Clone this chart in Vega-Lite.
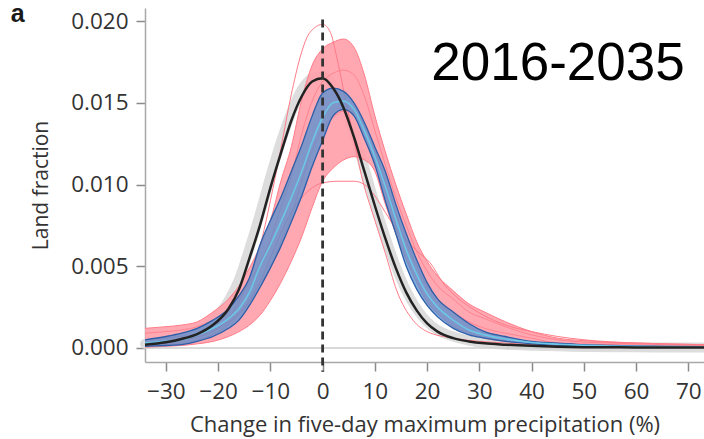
{
  "$schema": "https://vega.github.io/schema/vega-lite/v6.json",
  "width": 559,
  "height": 354,
  "autosize": "none",
  "padding": {"left": 145, "top": 8, "right": 0, "bottom": 77},
  "background": "white",
  "config": {
    "view": {"stroke": null},
    "axis": {"grid": false, "labelFont": "Open Sans", "titleFont": "Open Sans", "labelColor": "#333", "titleColor": "#333", "titleFontWeight": "normal", "domainColor": "#a8a8a8", "domainWidth": 1.5, "tickColor": "#8a8a8a", "tickWidth": 1.5, "tickSize": 9}
  },
  "datasets": {
    "one": [{}],
    "band": [
      {"x": -34, "rU": 0.0012, "rL": 0.00005, "r1": 0.0005, "r2": 0.0009, "bU": 0.0005, "bL": 0.0001, "bM": 0.0003, "k": 0.0002, "g": 0.00025},
      {"x": -30, "rU": 0.0013, "rL": 0.0001, "r1": 0.0006, "r2": 0.0010, "bU": 0.0007, "bL": 0.00015, "bM": 0.0004, "k": 0.00035, "g": 0.0004},
      {"x": -27, "rU": 0.0014, "rL": 0.00015, "r1": 0.0007, "r2": 0.0011, "bU": 0.0009, "bL": 0.0002, "bM": 0.0005, "k": 0.00055, "g": 0.0006},
      {"x": -24, "rU": 0.0016, "rL": 0.00025, "r1": 0.0008, "r2": 0.0013, "bU": 0.0012, "bL": 0.0004, "bM": 0.0008, "k": 0.00085, "g": 0.001},
      {"x": -21, "rU": 0.0022, "rL": 0.0004, "r1": 0.0011, "r2": 0.0017, "bU": 0.0017, "bL": 0.0007, "bM": 0.0012, "k": 0.0014, "g": 0.0017},
      {"x": -18, "rU": 0.0030, "rL": 0.0007, "r1": 0.0016, "r2": 0.0024, "bU": 0.0024, "bL": 0.0012, "bM": 0.0018, "k": 0.0024, "g": 0.0029},
      {"x": -16, "rU": 0.0038, "rL": 0.0010, "r1": 0.0021, "r2": 0.0031, "bU": 0.0032, "bL": 0.0017, "bM": 0.0024, "k": 0.0036, "g": 0.0042},
      {"x": -14, "rU": 0.0049, "rL": 0.0014, "r1": 0.0028, "r2": 0.0040, "bU": 0.0043, "bL": 0.0026, "bM": 0.0034, "k": 0.0055, "g": 0.0061},
      {"x": -12, "rU": 0.0062, "rL": 0.0020, "r1": 0.0037, "r2": 0.0052, "bU": 0.0063, "bL": 0.0037, "bM": 0.0050, "k": 0.0075, "g": 0.0082},
      {"x": -10, "rU": 0.0078, "rL": 0.0029, "r1": 0.0049, "r2": 0.0066, "bU": 0.0078, "bL": 0.0049, "bM": 0.0063, "k": 0.0098, "g": 0.0105},
      {"x": -8, "rU": 0.0102, "rL": 0.0040, "r1": 0.0065, "r2": 0.0086, "bU": 0.0092, "bL": 0.0062, "bM": 0.0077, "k": 0.0119, "g": 0.0126},
      {"x": -6, "rU": 0.0123, "rL": 0.0053, "r1": 0.0081, "r2": 0.0105, "bU": 0.0108, "bL": 0.0077, "bM": 0.0092, "k": 0.0139, "g": 0.0144},
      {"x": -4, "rU": 0.0152, "rL": 0.0068, "r1": 0.0102, "r2": 0.0131, "bU": 0.0124, "bL": 0.0093, "bM": 0.0108, "k": 0.0154, "g": 0.0158},
      {"x": -2, "rU": 0.0173, "rL": 0.0086, "r1": 0.0121, "r2": 0.0151, "bU": 0.0142, "bL": 0.0111, "bM": 0.0126, "k": 0.0163, "g": 0.0165},
      {"x": 0, "rU": 0.0183, "rL": 0.0102, "r1": 0.0134, "r2": 0.0163, "bU": 0.0156, "bL": 0.0127, "bM": 0.0141, "k": 0.0165, "g": 0.0166},
      {"x": 2, "rU": 0.0187, "rL": 0.0110, "r1": 0.0141, "r2": 0.0168, "bU": 0.0159, "bL": 0.0142, "bM": 0.0150, "k": 0.0159, "g": 0.0161},
      {"x": 4, "rU": 0.0189, "rL": 0.0115, "r1": 0.0145, "r2": 0.0170, "bU": 0.0157, "bL": 0.0146, "bM": 0.0151, "k": 0.0147, "g": 0.0148},
      {"x": 6, "rU": 0.0184, "rL": 0.0117, "r1": 0.0144, "r2": 0.0167, "bU": 0.0150, "bL": 0.0142, "bM": 0.0146, "k": 0.0129, "g": 0.0131},
      {"x": 8, "rU": 0.0167, "rL": 0.0115, "r1": 0.0136, "r2": 0.0154, "bU": 0.0138, "bL": 0.0128, "bM": 0.0133, "k": 0.0108, "g": 0.0110},
      {"x": 10, "rU": 0.0142, "rL": 0.0108, "r1": 0.0122, "r2": 0.0133, "bU": 0.0123, "bL": 0.0112, "bM": 0.0117, "k": 0.0087, "g": 0.0088},
      {"x": 12, "rU": 0.0120, "rL": 0.0088, "r1": 0.0101, "r2": 0.0112, "bU": 0.0108, "bL": 0.0090, "bM": 0.0099, "k": 0.0067, "g": 0.0068},
      {"x": 14, "rU": 0.0100, "rL": 0.0070, "r1": 0.0082, "r2": 0.0092, "bU": 0.0088, "bL": 0.0070, "bM": 0.0079, "k": 0.0049, "g": 0.0050},
      {"x": 16, "rU": 0.0082, "rL": 0.0054, "r1": 0.0065, "r2": 0.0075, "bU": 0.0070, "bL": 0.0050, "bM": 0.0060, "k": 0.0034, "g": 0.0035},
      {"x": 18, "rU": 0.0065, "rL": 0.0040, "r1": 0.0050, "r2": 0.0059, "bU": 0.0054, "bL": 0.0036, "bM": 0.0045, "k": 0.0023, "g": 0.0024},
      {"x": 20, "rU": 0.0053, "rL": 0.0028, "r1": 0.0038, "r2": 0.0047, "bU": 0.0040, "bL": 0.0026, "bM": 0.0033, "k": 0.0015, "g": 0.0016},
      {"x": 22, "rU": 0.0044, "rL": 0.0021, "r1": 0.0030, "r2": 0.0038, "bU": 0.0030, "bL": 0.0019, "bM": 0.0025, "k": 0.0010, "g": 0.0011},
      {"x": 25, "rU": 0.0035, "rL": 0.0013, "r1": 0.0022, "r2": 0.0030, "bU": 0.0022, "bL": 0.0012, "bM": 0.0017, "k": 0.0006, "g": 0.0007},
      {"x": 28, "rU": 0.0027, "rL": 0.0009, "r1": 0.0016, "r2": 0.0022, "bU": 0.0015, "bL": 0.0008, "bM": 0.0011, "k": 0.0004, "g": 0.00045},
      {"x": 31, "rU": 0.0022, "rL": 0.0006, "r1": 0.0012, "r2": 0.0018, "bU": 0.0010, "bL": 0.0006, "bM": 0.0008, "k": 0.00028, "g": 0.0003},
      {"x": 35, "rU": 0.0016, "rL": 0.0004, "r1": 0.0009, "r2": 0.0013, "bU": 0.0007, "bL": 0.0004, "bM": 0.00055, "k": 0.0002, "g": 0.0002},
      {"x": 40, "rU": 0.0010, "rL": 0.00025, "r1": 0.0006, "r2": 0.0008, "bU": 0.0004, "bL": 0.00025, "bM": 0.00033, "k": 0.00013, "g": 0.00014},
      {"x": 45, "rU": 0.0006, "rL": 0.00015, "r1": 0.0003, "r2": 0.0005, "bU": 0.0003, "bL": 0.00017, "bM": 0.00023, "k": 0.00008, "g": 0.0001},
      {"x": 50, "rU": 0.00045, "rL": 0.0001, "r1": 0.00024, "r2": 0.00036, "bU": 0.0002, "bL": 0.00012, "bM": 0.00016, "k": 0.00005, "g": 0.00006},
      {"x": 55, "rU": 0.00035, "rL": 0.00008, "r1": 0.0002, "r2": 0.0003, "bU": 0.00015, "bL": 0.0001, "bM": 0.00012, "k": 0.00004, "g": 0.00005},
      {"x": 60, "rU": 0.0003, "rL": 0.00006, "r1": 0.00016, "r2": 0.00024, "bU": 0.00012, "bL": 0.00008, "bM": 0.0001, "k": 0.00003, "g": 0.00004},
      {"x": 66, "rU": 0.00025, "rL": 0.00005, "r1": 0.00013, "r2": 0.0002, "bU": 0.0001, "bL": 0.00006, "bM": 0.00008, "k": 0.00002, "g": 0.00003},
      {"x": 73, "rU": 0.0002, "rL": 0.00004, "r1": 0.0001, "r2": 0.00016, "bU": 0.00008, "bL": 0.00005, "bM": 0.000065, "k": 0.00002, "g": 0.00002}
    ],
    "out": [
      {"id": "n", "x": -34, "y": 0.0002}, {"id": "n", "x": -30, "y": 0.0003}, {"id": "n", "x": -25, "y": 0.0006},
      {"id": "n", "x": -20, "y": 0.0012}, {"id": "n", "x": -15, "y": 0.0035}, {"id": "n", "x": -12, "y": 0.0062},
      {"id": "n", "x": -10, "y": 0.0090}, {"id": "n", "x": -8, "y": 0.0122}, {"id": "n", "x": -6, "y": 0.0155},
      {"id": "n", "x": -4.3, "y": 0.0178}, {"id": "n", "x": -3, "y": 0.0190}, {"id": "n", "x": -1.5, "y": 0.0196},
      {"id": "n", "x": 0, "y": 0.0198}, {"id": "n", "x": 1.5, "y": 0.0193}, {"id": "n", "x": 2.7, "y": 0.0178},
      {"id": "n", "x": 4, "y": 0.0158}, {"id": "n", "x": 5.5, "y": 0.0135}, {"id": "n", "x": 7.7, "y": 0.0102},
      {"id": "n", "x": 9.6, "y": 0.0082}, {"id": "n", "x": 12, "y": 0.0058}, {"id": "n", "x": 14.2, "y": 0.0035},
      {"id": "n", "x": 17.3, "y": 0.0017}, {"id": "n", "x": 20, "y": 0.0010}, {"id": "n", "x": 25, "y": 0.0006},
      {"id": "n", "x": 35, "y": 0.0003}, {"id": "n", "x": 50, "y": 0.0001}, {"id": "n", "x": 73, "y": 0.00003},
      {"id": "f", "x": -34, "y": 0.0001}, {"id": "f", "x": -30, "y": 0.0002}, {"id": "f", "x": -25, "y": 0.0004},
      {"id": "f", "x": -20, "y": 0.0010}, {"id": "f", "x": -15, "y": 0.0025}, {"id": "f", "x": -12, "y": 0.0040},
      {"id": "f", "x": -10, "y": 0.0055}, {"id": "f", "x": -8, "y": 0.0070}, {"id": "f", "x": -6, "y": 0.0083},
      {"id": "f", "x": -4, "y": 0.0092}, {"id": "f", "x": -2, "y": 0.0098}, {"id": "f", "x": 0, "y": 0.0101},
      {"id": "f", "x": 3, "y": 0.0102}, {"id": "f", "x": 6, "y": 0.0102}, {"id": "f", "x": 8, "y": 0.0100},
      {"id": "f", "x": 10, "y": 0.0093}, {"id": "f", "x": 12, "y": 0.0083}, {"id": "f", "x": 14, "y": 0.0073},
      {"id": "f", "x": 16, "y": 0.0066}, {"id": "f", "x": 18.5, "y": 0.0058}, {"id": "f", "x": 20.6, "y": 0.0052},
      {"id": "f", "x": 23, "y": 0.0040}, {"id": "f", "x": 25, "y": 0.0033}, {"id": "f", "x": 28.2, "y": 0.0025},
      {"id": "f", "x": 32, "y": 0.0018}, {"id": "f", "x": 36, "y": 0.0013}, {"id": "f", "x": 40, "y": 0.0010},
      {"id": "f", "x": 45, "y": 0.0007}, {"id": "f", "x": 50, "y": 0.0005}, {"id": "f", "x": 60, "y": 0.0003},
      {"id": "f", "x": 73, "y": 0.0002}
    ]
  },
  "layer": [
    {
      "data": {"name": "band"},
      "mark": {"type": "line", "stroke": "#dddddd", "strokeWidth": 10, "interpolate": "monotone", "strokeCap": "round"},
      "encoding": {
        "x": {"field": "x", "type": "quantitative", "scale": {"domain": [-34, 73], "nice": false, "zero": false},
          "axis": {"values": [-30, -20, -10, 0, 10, 20, 30, 40, 50, 60, 70], "title": "Change in five-day maximum precipitation (%)", "labelFontSize": 22.5, "labelPadding": 9, "titleFontSize": 22, "titleY": 69, "titleBaseline": "alphabetic"}},
        "y": {"field": "g", "type": "quantitative", "scale": {"domain": [-0.00086, 0.0208], "nice": false, "zero": false},
          "axis": {"values": [0, 0.005, 0.01, 0.015, 0.02], "format": ".3f", "title": "Land fraction", "labelFontSize": 22.5, "labelPadding": 8, "titleFontSize": 21, "titleX": -98, "titleY": 177, "titleAngle": 270, "titleBaseline": "alphabetic"}}
      }
    },
    {
      "data": {"name": "one"},
      "mark": {"type": "rule", "stroke": "#cccccc", "strokeWidth": 1.5},
      "encoding": {"y": {"datum": 0}}
    },
    {
      "data": {"name": "band"},
      "mark": {"type": "area", "fill": "#ff9eaa", "opacity": 0.9, "interpolate": "monotone"},
      "encoding": {"x": {"field": "x", "type": "quantitative"}, "y": {"field": "rU", "type": "quantitative"}, "y2": {"field": "rL"}}
    },
    {
      "data": {"name": "band"},
      "mark": {"type": "line", "stroke": "#ff7c88", "strokeWidth": 1, "interpolate": "monotone"},
      "encoding": {"x": {"field": "x", "type": "quantitative"}, "y": {"field": "rU", "type": "quantitative"}}
    },
    {
      "data": {"name": "band"},
      "mark": {"type": "line", "stroke": "#ff7c88", "strokeWidth": 1, "interpolate": "monotone"},
      "encoding": {"x": {"field": "x", "type": "quantitative"}, "y": {"field": "rL", "type": "quantitative"}}
    },
    {
      "data": {"name": "band"},
      "mark": {"type": "line", "stroke": "#ff6b78", "strokeWidth": 1, "opacity": 0.6, "interpolate": "monotone"},
      "encoding": {"x": {"field": "x", "type": "quantitative"}, "y": {"field": "r1", "type": "quantitative"}}
    },
    {
      "data": {"name": "band"},
      "mark": {"type": "line", "stroke": "#ff6b78", "strokeWidth": 1, "opacity": 0.6, "interpolate": "monotone"},
      "encoding": {"x": {"field": "x", "type": "quantitative"}, "y": {"field": "r2", "type": "quantitative"}}
    },
    {
      "data": {"name": "out"},
      "mark": {"type": "line", "stroke": "#ff7b86", "strokeWidth": 1, "interpolate": "monotone"},
      "encoding": {"x": {"field": "x", "type": "quantitative"}, "y": {"field": "y", "type": "quantitative"}, "detail": {"field": "id"}}
    },
    {
      "data": {"name": "band"},
      "mark": {"type": "area", "fill": "#4f8ed0", "opacity": 0.72, "interpolate": "monotone"},
      "encoding": {"x": {"field": "x", "type": "quantitative"}, "y": {"field": "bU", "type": "quantitative"}, "y2": {"field": "bL"}}
    },
    {
      "data": {"name": "band"},
      "mark": {"type": "line", "stroke": "#2d5fa8", "strokeWidth": 1.3, "interpolate": "monotone"},
      "encoding": {"x": {"field": "x", "type": "quantitative"}, "y": {"field": "bU", "type": "quantitative"}}
    },
    {
      "data": {"name": "band"},
      "mark": {"type": "line", "stroke": "#2d5fa8", "strokeWidth": 1.3, "interpolate": "monotone"},
      "encoding": {"x": {"field": "x", "type": "quantitative"}, "y": {"field": "bL", "type": "quantitative"}}
    },
    {
      "data": {"name": "band"},
      "mark": {"type": "line", "stroke": "#6cc6e6", "strokeWidth": 1.6, "interpolate": "monotone"},
      "encoding": {"x": {"field": "x", "type": "quantitative"}, "y": {"field": "bM", "type": "quantitative"}}
    },
    {
      "data": {"name": "band"},
      "mark": {"type": "line", "stroke": "#222222", "strokeWidth": 2.5, "interpolate": "monotone"},
      "encoding": {"x": {"field": "x", "type": "quantitative"}, "y": {"field": "k", "type": "quantitative"}}
    },
    {
      "data": {"name": "one"},
      "mark": {"type": "rule", "stroke": "#333333", "strokeWidth": 2.8, "strokeDash": [8, 5]},
      "encoding": {"x": {"datum": 0}, "y": {"datum": 0.0201}, "y2": {"datum": -0.00146}}
    },
    {
      "data": {"name": "one"},
      "mark": {"type": "text", "text": "2016-2035", "font": "Liberation Sans", "fontSize": 53, "align": "left", "baseline": "alphabetic", "fill": "#000000"},
      "encoding": {"x": {"datum": 20.8}, "y": {"datum": 0.0164}}
    },
    {
      "data": {"name": "one"},
      "mark": {"type": "text", "text": "a", "font": "Liberation Sans", "fontSize": 25, "fontWeight": "bold", "align": "left", "baseline": "alphabetic", "fill": "#1a1a1a", "clip": false},
      "encoding": {"x": {"datum": -59.7}, "y": {"datum": 0.01995}}
    }
  ]
}
